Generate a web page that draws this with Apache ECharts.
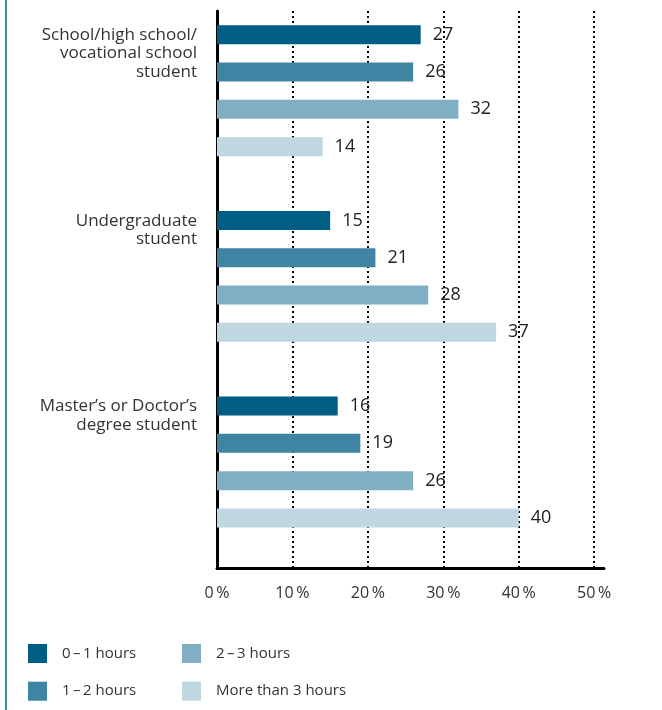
<!DOCTYPE html>
<html>
<head>
<meta charset="utf-8">
<script src="https://cdn.jsdelivr.net/npm/echarts@6/dist/echarts.min.js"></script>
<style>
    html, body { margin: 0; padding: 0; background: #fff; }
    #main { width: 662px; height: 710px; }
    #edge { position: absolute; left: 5px; top: 0; width: 2px; height: 710px; background: #3d88ad; }
</style>
</head>
<body>
<div id="edge"></div>
<div id="main"></div>
<script>
var categories = [
    'School/high school/\nvocational school\nstudent',
    'Undergraduate\nstudent',
    'Master\u2019s or Doctor\u2019s\ndegree student'
];
var seriesNames = ['0\u2009\u2013\u20091 hours', '1\u2009\u2013\u20092 hours', '2\u2009\u2013\u20093 hours', 'More than 3 hours'];
var hours01 = [27, 15, 16];
var hours12 = [26, 21, 19];
var hours23 = [32, 28, 26];
var hours3plus = [14, 37, 40];
var xTicks = [0, 10, 20, 30, 40, 50];

var colors = ['#005e85', '#4084a4', '#80afc4', '#bfd7e1'];
var font = '"Open Sans", "Noto Sans", sans-serif';

var myChart = echarts.init(document.getElementById('main'));

function barSeries(name, data, color) {
    return {
        name: name,
        type: 'bar',
        data: data,
        barWidth: 19,
        barGap: '96.3%',
        itemStyle: { color: color },
        label: {
            show: true,
            position: 'right',
            distance: 12,
            color: '#222',
            fontFamily: font,
            fontSize: 18
        }
    };
}

var series = [
    barSeries(seriesNames[0], hours01, colors[0]),
    barSeries(seriesNames[1], hours12, colors[1]),
    barSeries(seriesNames[2], hours23, colors[2]),
    barSeries(seriesNames[3], hours3plus, colors[3])
];
// empty slot below each group, pushes the bars up like in the original layout
series.push({ name: 'spacer', type: 'bar', data: [], barWidth: 8, barGap: '96.3%', silent: true });

function legend(names, left) {
    return {
        orient: 'vertical',
        left: left,
        top: 644,
        height: 70,
        padding: 0,
        icon: 'rect',
        itemWidth: 19,
        itemHeight: 19,
        itemGap: 18.7,
        data: names,
        textStyle: { color: '#333', fontFamily: font, fontSize: 15, padding: [0, 0, 0, 10] }
    };
}

var option = {
    animation: false,
    textStyle: { fontFamily: font },
    grid: { left: 217, right: 58, top: 11, bottom: 142, containLabel: false },
    legend: [
        legend([seriesNames[0], seriesNames[1]], 28),
        legend([seriesNames[2], seriesNames[3]], 182)
    ],
    xAxis: {
        type: 'value',
        min: xTicks[0],
        max: 51.3,
        interval: 10,
        axisLine: { show: true, lineStyle: { color: '#000', width: 3 } },
        axisTick: { show: false },
        axisLabel: {
            color: '#333',
            fontSize: 16,
            margin: 17,
            showMaxLabel: false,
            formatter: function(value) {
                return xTicks.indexOf(value) >= 0 ? value + '\u2009%' : '';
            }
        },
        splitLine: {
            show: true,
            showMinLine: false,
            showMaxLine: false,
            lineStyle: { color: '#000', width: 2, type: [2, 3] }
        }
    },
    yAxis: {
        type: 'category',
        inverse: true,
        data: categories,
        axisLine: { show: true, lineStyle: { color: '#000', width: 3 } },
        axisTick: { show: false },
        axisLabel: {
            color: '#333',
            fontSize: 17,
            lineHeight: 18.5,
            margin: 20,
            align: 'right',
            verticalAlign: 'top',
            padding: [-78, 0, 0, 0]
        },
        splitLine: { show: false }
    },
    series: series
};

myChart.setOption(option);
</script>
</body>
</html>
